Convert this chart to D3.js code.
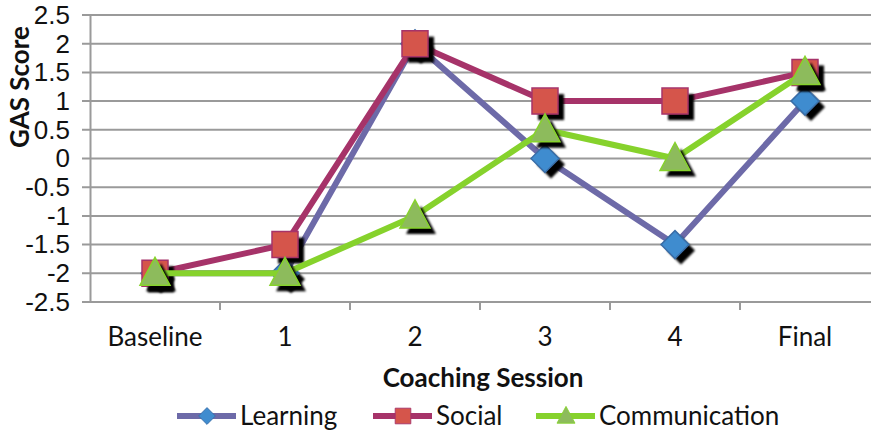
<!DOCTYPE html>
<html>
<head>
<meta charset="utf-8">
<script src="https://cdn.jsdelivr.net/npm/d3@7"></script>
<style>
  html, body { margin: 0; padding: 0; background: #fff; }
  svg { display: block; }
  text { font-family: Lato, "Open Sans", Arial, sans-serif; fill: #111; }
</style>
</head>
<body>
<svg id="chart" width="871" height="436"></svg>
<script>
// Session categories and GAS scores per domain
const sessions = ["Baseline", "1", "2", "3", "4", "Final"];
const learning = [-2, -2, 2, 0, -1.5, 1];
const social = [-2, -1.5, 2, 1, 1, 1.5];
const communication = [-2, -2, -1, 0.5, 0, 1.5];
const yTicks = [-2.5, -2, -1.5, -1, -0.5, 0, 0.5, 1, 1.5, 2, 2.5];

const series = [
  { name: "Learning", values: learning, line: "#6d6aa8", fill: "#3f8ccf", stroke: "#3a6ea8", shape: "diamond" },
  { name: "Social", values: social, line: "#a63369", fill: "#d5554b", stroke: "#a63369", shape: "square" },
  { name: "Communication", values: communication, line: "#86d22c", fill: "#8dbb5c", stroke: "#86d22c", shape: "triangle" }
];

const svg = d3.select("#chart");
const plotLeft = 90, plotRight = 870, plotTop = 15, plotBottom = 302;
const fontSize = 26;

const x = d3.scaleBand().domain(sessions).range([plotLeft, plotRight]);
const y = d3.scaleLinear().domain([-2.5, 2.5]).range([plotBottom, plotTop]);

const defs = svg.append("defs");
defs.append("filter").attr("id", "soft").attr("x", "-50%").attr("y", "-50%").attr("width", "200%").attr("height", "200%")
  .append("feGaussianBlur").attr("stdDeviation", 1);

// horizontal grid
svg.append("g").selectAll("line").data(yTicks).join("line")
  .attr("x1", plotLeft - 8).attr("x2", plotRight + 1)
  .attr("y1", d => y(d)).attr("y2", d => y(d))
  .attr("stroke", "#9a9a9a").attr("stroke-width", 2);

// y axis
const yAxis = svg.append("g").attr("transform", `translate(${plotLeft},0)`)
  .call(d3.axisLeft(y).tickValues(yTicks).tickFormat(d => String(d)).tickSize(0).tickPadding(20));
yAxis.select(".domain").attr("stroke", "#9a9a9a").attr("stroke-width", 2);
yAxis.selectAll("text").attr("font-size", fontSize).attr("fill", "#111").style("font-family", "inherit");

// x axis with ticks on category boundaries
svg.append("line").attr("x1", plotLeft).attr("x2", plotRight + 1).attr("y1", plotBottom).attr("y2", plotBottom)
  .attr("stroke", "#9a9a9a").attr("stroke-width", 2);
const bounds = sessions.slice(1).map(s => x(s));
svg.append("g").selectAll("line").data(bounds).join("line")
  .attr("x1", d => d).attr("x2", d => d).attr("y1", plotBottom).attr("y2", plotBottom + 8)
  .attr("stroke", "#9a9a9a").attr("stroke-width", 2);
svg.append("g").selectAll("text").data(sessions).join("text")
  .attr("x", d => x(d) + x.bandwidth() / 2).attr("y", 339)
  .attr("text-anchor", "middle").attr("dominant-baseline", "middle")
  .attr("font-size", fontSize).text(d => d);

// axis titles
svg.append("text").attr("x", 483).attr("y", 380).attr("text-anchor", "middle")
  .attr("dominant-baseline", "middle").attr("font-size", fontSize).attr("font-weight", "bold")
  .text("Coaching Session");
svg.append("text").attr("transform", "translate(22,87) rotate(-90)")
  .attr("text-anchor", "middle").attr("dominant-baseline", "middle")
  .attr("font-size", fontSize).attr("font-weight", "bold").text("GAS Score");

function shapePath(shape) {
  if (shape === "diamond") return "M0,-14L14,0L0,14L-14,0Z";
  if (shape === "square") return "M-13,-13H13V13H-13Z";
  return "M0,-16L15,12H-15Z";
}

const lineGen = d3.line().x((d, i) => x(sessions[i]) + x.bandwidth() / 2).y(d => y(d));

series.forEach(s => {
  const g = svg.append("g");
  g.append("path").datum(s.values).attr("d", lineGen)
    .attr("fill", "none").attr("stroke", s.line).attr("stroke-width", 6).attr("stroke-linejoin", "round");
  const pts = s.values.map((v, i) => [x(sessions[i]) + x.bandwidth() / 2, y(v)]);
  // marker shadows
  g.append("g").selectAll("path").data(pts).join("path")
    .attr("d", shapePath(s.shape)).attr("transform", d => `translate(${d[0] + 6},${d[1] + 6})`)
    .attr("fill", "#000").attr("filter", "url(#soft)");
  g.append("g").selectAll("path").data(pts).join("path")
    .attr("d", shapePath(s.shape)).attr("transform", d => `translate(${d[0]},${d[1]})`)
    .attr("fill", s.fill).attr("stroke", s.stroke).attr("stroke-width", 1.5);
});

// legend
const legendItems = [
  { s: series[0], x0: 177, tx: 240 },
  { s: series[1], x0: 373, tx: 436 },
  { s: series[2], x0: 536, tx: 599 }
];
const ly = 416;
legendItems.forEach(it => {
  const g = svg.append("g");
  g.append("line").attr("x1", it.x0).attr("x2", it.x0 + 59).attr("y1", ly).attr("y2", ly)
    .attr("stroke", it.s.line).attr("stroke-width", 6);
  g.append("path").attr("d", shapePath(it.s.shape))
    .attr("transform", `translate(${it.x0 + 30},${ly}) scale(0.6)`)
    .attr("fill", it.s.fill).attr("stroke", it.s.stroke).attr("stroke-width", 1.5);
  g.append("text").attr("x", it.tx).attr("y", ly + 2).attr("dominant-baseline", "middle")
    .attr("font-size", fontSize).text(it.s.name);
});
</script>
</body>
</html>
